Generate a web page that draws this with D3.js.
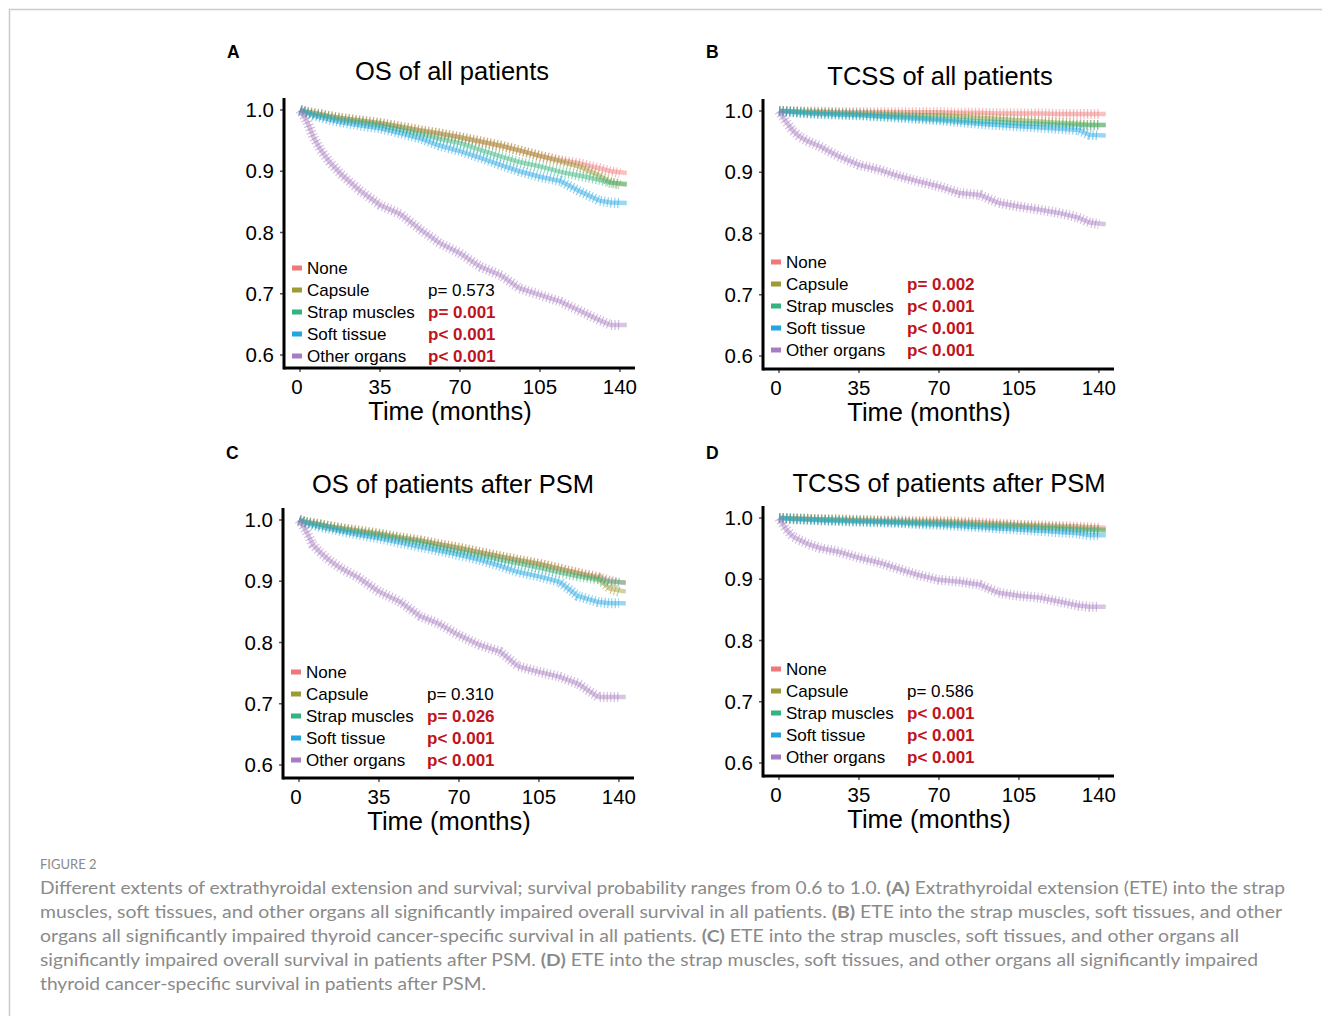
<!DOCTYPE html>
<html>
<head>
<meta charset="utf-8">
<script src="https://cdn.jsdelivr.net/npm/d3@7"></script>
<style>
  body { margin: 0; background: #fff; }
  svg text { font-family: "Liberation Sans", Arial, sans-serif; }
  svg text.caption { font-family: Lato, "Open Sans", sans-serif; }
</style>
</head>
<body>
<svg id="fig" width="1322" height="1016"></svg>
<script>
'use strict';

var groups = ['None', 'Capsule', 'Strap muscles', 'Soft tissue', 'Other organs'];
var groupColors = ['#F0777A', '#9C9B35', '#33B37D', '#22A6E2', '#A87CC2'];
var months = [0, 3, 6, 9, 13, 18, 26, 35, 44, 53, 61, 70, 79, 88, 96, 105, 114, 122, 131, 136, 143];
var xTicks = [0, 35, 70, 105, 140];
var yTicks = [0.6, 0.7, 0.8, 0.9, 1.0];

// A: OS of all patients
var osAll = [
  [1, .997, .995, .993, .990, .987, .983, .978, .972, .966, .961, .955, .948, .941, .934, .925, .918, .913, .905, .900, .897],
  [1, .997, .995, .993, .990, .987, .983, .979, .973, .967, .962, .956, .949, .942, .934, .925, .916, .908, .893, .882, .878],
  [1, .996, .993, .991, .988, .984, .980, .975, .968, .960, .953, .946, .935, .924, .915, .908, .899, .893, .886, .881, .879],
  [1, .995, .991, .988, .984, .980, .975, .970, .962, .953, .942, .933, .922, .910, .900, .891, .884, .868, .852, .849, .848],
  [1, .982, .955, .935, .915, .895, .869, .845, .830, .804, .783, .766, .744, .730, .709, .698, .687, .673, .657, .649, .649]
];
var osAllP = ['', 'p= 0.573', 'p= 0.001', 'p< 0.001', 'p< 0.001'];
var osAllSig = [false, false, true, true, true];

// B: TCSS of all patients
var tcssAll = [
  [1, 1, .999, .999, .999, .999, .998, .998, .998, .998, .998, .998, .997, .997, .996, .996, .996, .995, .995, .995, .995],
  [1, 1, .999, .999, .998, .998, .997, .996, .995, .994, .993, .993, .991, .989, .987, .985, .983, .981, .979, .977, .977],
  [1, .999, .999, .998, .997, .996, .995, .994, .992, .991, .989, .987, .985, .983, .982, .980, .979, .978, .977, .977, .977],
  [1, .999, .998, .997, .996, .995, .994, .993, .991, .989, .987, .985, .982, .979, .977, .975, .973, .971, .969, .961, .960],
  [1, .983, .968, .958, .950, .942, .926, .912, .904, .893, .885, .877, .866, .863, .850, .844, .839, .834, .826, .818, .815]
];
var tcssAllP = ['', 'p= 0.002', 'p< 0.001', 'p< 0.001', 'p< 0.001'];
var tcssAllSig = [false, true, true, true, true];

// C: OS of patients after PSM
var osPsm = [
  [1, .997, .995, .993, .990, .987, .982, .977, .971, .966, .960, .954, .947, .940, .934, .928, .920, .914, .907, .901, .897],
  [1, .997, .995, .993, .990, .987, .983, .978, .972, .967, .961, .955, .948, .941, .935, .929, .921, .913, .905, .888, .883],
  [1, .996, .994, .992, .989, .985, .980, .975, .969, .963, .956, .949, .942, .935, .929, .922, .914, .908, .903, .899, .898],
  [1, .995, .992, .989, .986, .982, .976, .970, .963, .956, .950, .943, .935, .925, .915, .908, .899, .876, .866, .864, .864],
  [1, .983, .960, .948, .935, .922, .906, .883, .867, .843, .831, .812, .796, .785, .761, .752, .744, .733, .711, .711, .711]
];
var osPsmP = ['', 'p= 0.310', 'p= 0.026', 'p< 0.001', 'p< 0.001'];
var osPsmSig = [false, false, true, true, true];

// D: TCSS of patients after PSM
var tcssPsm = [
  [1, 1, .999, .999, .999, .998, .998, .997, .996, .996, .995, .995, .994, .993, .991, .989, .988, .987, .986, .985, .984],
  [1, 1, .999, .999, .998, .998, .997, .996, .995, .994, .993, .993, .992, .990, .989, .988, .986, .985, .983, .982, .981],
  [1, .999, .999, .998, .998, .997, .996, .995, .994, .993, .992, .991, .990, .988, .987, .986, .984, .983, .981, .980, .979],
  [1, .999, .998, .998, .997, .996, .995, .994, .993, .992, .990, .989, .987, .985, .983, .981, .979, .977, .975, .972, .972],
  [1, .982, .970, .964, .957, .951, .945, .935, .927, .916, .907, .899, .896, .891, .878, .873, .870, .864, .857, .855, .855]
];
var tcssPsmP = ['', 'p= 0.586', 'p< 0.001', 'p< 0.001', 'p< 0.001'];
var tcssPsmSig = [false, false, true, true, true];

var panels = [
  { letter: 'A', title: 'OS of all patients', curves: osAll, p: osAllP, sig: osAllSig,
    left: 284, top: 110, letterY: -52, titleX: 168, titleY: -30, legY: 158 },
  { letter: 'B', title: 'TCSS of all patients', curves: tcssAll, p: tcssAllP, sig: tcssAllSig,
    left: 763, top: 111, letterY: -53, titleX: 177, titleY: -26, legY: 151 },
  { letter: 'C', title: 'OS of patients after PSM', curves: osPsm, p: osPsmP, sig: osPsmSig,
    left: 283, top: 520, letterY: -61, titleX: 170, titleY: -27, legY: 152 },
  { letter: 'D', title: 'TCSS of patients after PSM', curves: tcssPsm, p: tcssPsmP, sig: tcssPsmSig,
    left: 763, top: 518, letterY: -59, titleX: 186, titleY: -26, legY: 151 }
];

var captionLines = [
  [['Different extents of extrathyroidal extension and survival; survival probability ranges from 0.6 to 1.0. ', false], ['(A)', true], [' Extrathyroidal extension (ETE) into the strap', false]],
  [['muscles, soft tissues, and other organs all significantly impaired overall survival in all patients. ', false], ['(B)', true], [' ETE into the strap muscles, soft tissues, and other', false]],
  [['organs all significantly impaired thyroid cancer-specific survival in all patients. ', false], ['(C)', true], [' ETE into the strap muscles, soft tissues, and other organs all', false]],
  [['significantly impaired overall survival in patients after PSM. ', false], ['(D)', true], [' ETE into the strap muscles, soft tissues, and other organs all significantly impaired', false]],
  [['thyroid cancer-specific survival in patients after PSM.', false]]
];
var captionWidths = [1245, 1242, 1199, 1218, 446];

var svg = d3.select('#fig');

// page frame
svg.append('path')
  .attr('d', 'M9.5,1016V9.5H1322')
  .attr('fill', 'none')
  .attr('stroke', '#cccccc')
  .attr('stroke-width', 1.5);

function drawPanel(p) {
  var g = svg.append('g').attr('transform', 'translate(' + p.left + ',' + p.top + ')');

  var x = d3.scaleLinear().domain([-7, 146.6]).range([0, 351]);
  var y = d3.scaleLinear().domain([0.6, 1.0]).range([245, 0]);
  var bottom = 258;

  g.append('text')
    .attr('x', -57).attr('y', p.letterY)
    .attr('font-size', 17.5).attr('font-weight', 'bold')
    .text(p.letter);

  g.append('text')
    .attr('x', p.titleX).attr('y', p.titleY)
    .attr('text-anchor', 'middle')
    .attr('font-size', 25.5)
    .text(p.title);

  var line = d3.line()
    .x(function(d) { return x(d[0]); })
    .y(function(d) { return y(d[1]); });

  p.curves.forEach(function(vals, i) {
    var pts = months.map(function(m, j) { return [m, vals[j]]; });
    g.append('path')
      .datum(pts)
      .attr('d', line)
      .attr('fill', 'none')
      .attr('stroke', groupColors[i])
      .attr('stroke-width', 4.5)
      .attr('stroke-opacity', 0.45);
    // censor marks
    g.append('path')
      .datum(pts.slice(0, -1).concat([[140, vals[vals.length - 1]]]))
      .attr('d', line)
      .attr('fill', 'none')
      .attr('stroke', groupColors[i])
      .attr('stroke-width', 10)
      .attr('stroke-dasharray', '1.2 2.3')
      .attr('stroke-opacity', 0.5);
  });

  // axes
  g.selectAll('.ytick').data(yTicks).enter().append('line')
    .attr('x1', -4).attr('x2', 0)
    .attr('y1', function(d) { return y(d); })
    .attr('y2', function(d) { return y(d); })
    .attr('stroke', '#555').attr('stroke-width', 1.5);
  g.selectAll('.ylab').data(yTicks).enter().append('text')
    .attr('x', -10)
    .attr('y', function(d) { return y(d) + 7; })
    .attr('text-anchor', 'end')
    .attr('font-size', 20.5)
    .text(function(d) { return d3.format('.1f')(d); });

  g.selectAll('.xtick').data(xTicks).enter().append('line')
    .attr('x1', function(d) { return x(d); })
    .attr('x2', function(d) { return x(d); })
    .attr('y1', bottom).attr('y2', bottom + 4)
    .attr('stroke', '#555').attr('stroke-width', 1.5);
  g.selectAll('.xlab').data(xTicks).enter().append('text')
    .attr('x', function(d) { return x(d) - (d === 0 ? 3 : 0); })
    .attr('y', bottom + 26)
    .attr('text-anchor', 'middle')
    .attr('font-size', 20.5)
    .text(function(d) { return d; });

  g.append('line')
    .attr('x1', 0).attr('x2', 0).attr('y1', -12).attr('y2', bottom + 1.5)
    .attr('stroke', '#000').attr('stroke-width', 3);
  g.append('line')
    .attr('x1', 0).attr('x2', 351).attr('y1', bottom).attr('y2', bottom)
    .attr('stroke', '#000').attr('stroke-width', 3);

  g.append('text')
    .attr('x', 166).attr('y', bottom + 52)
    .attr('text-anchor', 'middle')
    .attr('font-size', 25.5)
    .text('Time (months)');

  // legend and log-rank p values
  groups.forEach(function(name, i) {
    var cy = p.legY + i * 22;
    g.append('rect')
      .attr('x', 8).attr('y', cy - 2.5).attr('width', 10).attr('height', 5)
      .attr('fill', groupColors[i]);
    g.append('text')
      .attr('x', 23).attr('y', cy + 6)
      .attr('font-size', 17)
      .text(name);
    if (p.p[i]) {
      g.append('text')
        .attr('x', 144).attr('y', cy + 6)
        .attr('font-size', 17)
        .attr('font-weight', p.sig[i] ? 'bold' : 'normal')
        .attr('fill', p.sig[i] ? '#C0141C' : '#000')
        .text(p.p[i]);
    }
  });
}

panels.forEach(drawPanel);

// caption
svg.append('text')
  .attr('class', 'caption')
  .attr('x', 40).attr('y', 869)
  .attr('font-size', 13)
  .attr('fill', '#8a8a8a')
  .text('FIGURE 2');

captionLines.forEach(function(parts, i) {
  var t = svg.append('text')
    .attr('class', 'caption')
    .attr('x', 40).attr('y', 894 + i * 24)
    .attr('font-size', 17.5)
    .attr('fill', '#8a8a8a')
    .attr('textLength', captionWidths[i])
    .attr('lengthAdjust', 'spacingAndGlyphs');
  parts.forEach(function(part) {
    t.append('tspan')
      .attr('font-weight', part[1] ? 'bold' : 'normal')
      .text(part[0]);
  });
});
</script>
</body>
</html>
